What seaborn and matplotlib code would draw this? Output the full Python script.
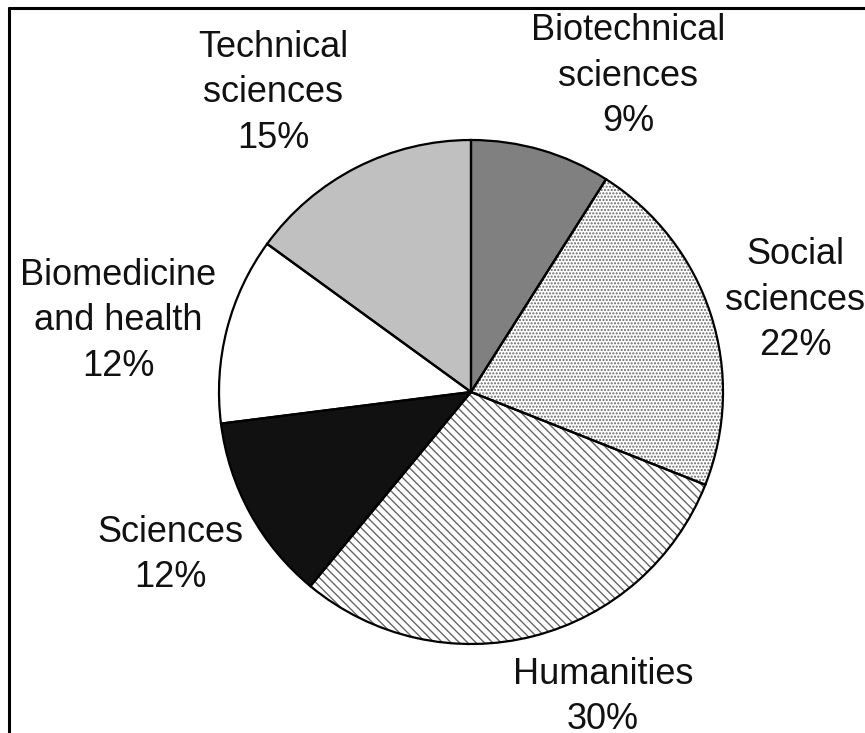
import matplotlib
matplotlib.use("Agg")
import matplotlib.pyplot as plt
import seaborn as sns
from matplotlib.lines import Line2D

categories = ["Biotechnical\nsciences", "Social\nsciences", "Humanities",
              "Sciences", "Biomedicine\nand health", "Technical\nsciences"]
shares = [9, 22, 30, 12, 12, 15]
face_colors = ["#808080", "white", "white", "#111111", "white", "#c0c0c0"]
hatches = [None, ".....", "\\\\\\\\", None, None, None]
# label positions in pixels (x from left, y from top)
label_px = [(628, 76), (795, 300), (603, 697), (170, 555), (118, 321), (273, 93)]

sns.set_theme(style="white")
plt.rcParams["font.family"] = ["Liberation Sans", "DejaVu Sans"]
plt.rcParams["hatch.linewidth"] = 1.0

W, H = 865, 733
cx, cy, R = 471, 392, 252

fig = plt.figure(figsize=(W / 100, H / 100), dpi=100)
ax = fig.add_axes([0, 0, 1, 1])

# hatched fill layer
wedges, _ = ax.pie(shares, startangle=90, counterclock=False, radius=1,
                   colors=face_colors,
                   wedgeprops=dict(linewidth=0, edgecolor="#666666"))
for w, h in zip(wedges, hatches):
    if h:
        w.set_hatch(h)

# outline layer
ax.pie(shares, startangle=90, counterclock=False, radius=1,
       colors=["none"] * len(shares),
       wedgeprops=dict(linewidth=1.6, edgecolor="black"))

ax.set_xlim(-cx / R, (W - cx) / R)
ax.set_ylim(-(H - cy) / R, cy / R)
ax.set_aspect("equal")
ax.axis("off")

def to_data(px, py):
    return (px - cx) / R, (cy - py) / R

for cat, val, (px, py) in zip(categories, shares, label_px):
    x, y = to_data(px, py)
    ax.text(x, y, f"{cat}\n{val}%", ha="center", va="center",
            fontsize=26, color="#111111", linespacing=1.38)

# frame lines (top and left)
fig.add_artist(Line2D([9 / W, 1], [1 - 8 / H, 1 - 8 / H], color="black",
                      linewidth=2.2, transform=fig.transFigure))
fig.add_artist(Line2D([9 / W, 9 / W], [0, 1 - 8 / H], color="black",
                      linewidth=2.2, transform=fig.transFigure))

fig.savefig("out.png", dpi=100)
